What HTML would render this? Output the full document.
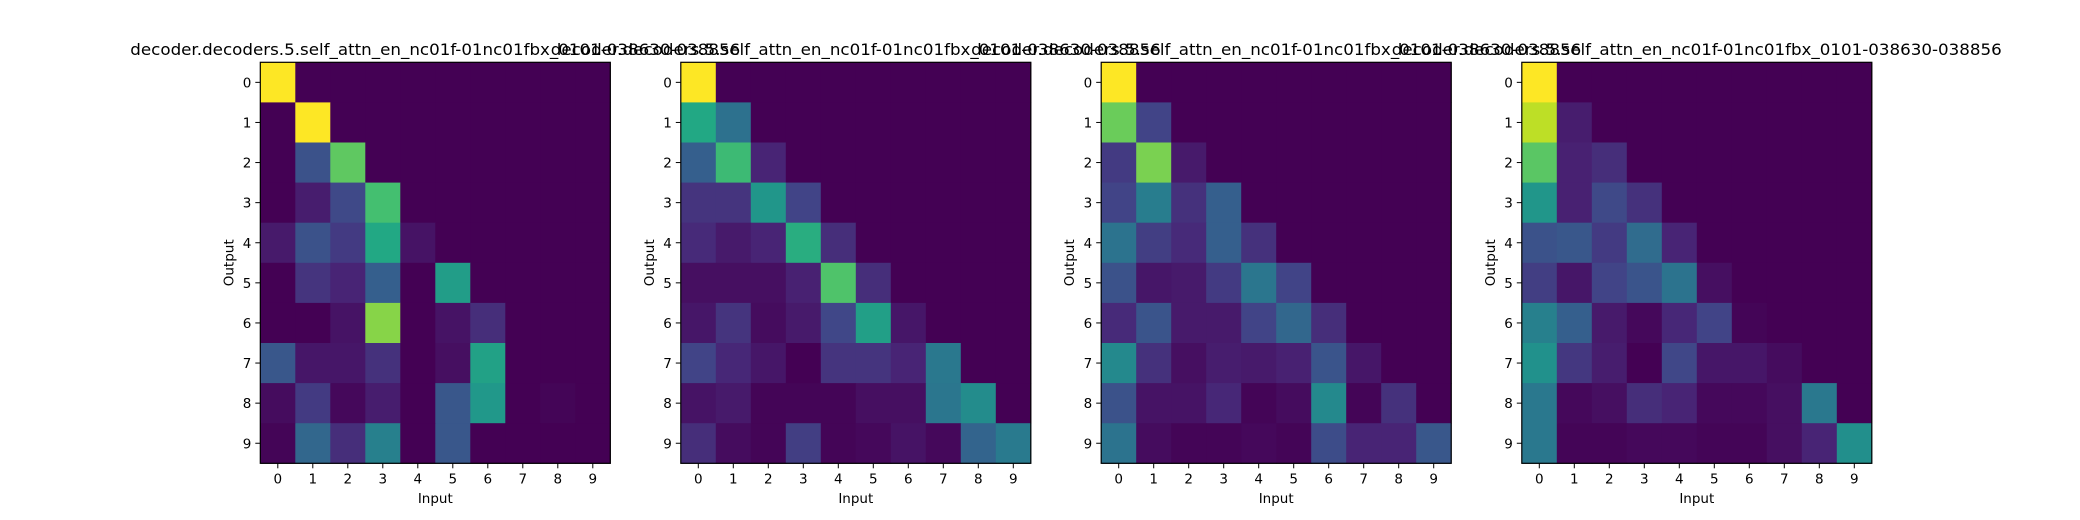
<!DOCTYPE html>
<html><head><meta charset="utf-8"><style>
html,body{margin:0;padding:0;background:#fff;}
svg{display:block;font-family:"DejaVu Sans","Liberation Sans",sans-serif;}
</style></head><body>
<svg id="fig" width="2080" height="520" viewBox="0 0 2080 520" xmlns="http://www.w3.org/2000/svg">
<rect width="2080" height="520" fill="#fff"/>
</svg>
<script>
const titleText = "decoder.decoders.5.self_attn_en_nc01f-01nc01fbx_0101-038630-038856";
const tickLabels = ["0","1","2","3","4","5","6","7","8","9"];
const heads0 = [
[1,0,0,0,0,0,0,0,0,0],
[0,1,0,0,0,0,0,0,0,0],
[0,0.25,0.75,0,0,0,0,0,0,0],
[0,0.08,0.22,0.7,0,0,0,0,0,0],
[0.07,0.25,0.17,0.6,0.05,0,0,0,0,0],
[0,0.15,0.1,0.3,0,0.55,0,0,0,0],
[0,0,0.05,0.82,0,0.05,0.13,0,0,0],
[0.27,0.06,0.06,0.14,0,0.04,0.57,0,0,0],
[0.03,0.17,0.02,0.08,0,0.27,0.53,0,0.01,0],
[0.01,0.33,0.13,0.43,0,0.27,0,0,0,0]];
const heads1 = [
[1,0,0,0,0,0,0,0,0,0],
[0.6,0.37,0,0,0,0,0,0,0,0],
[0.3,0.68,0.1,0,0,0,0,0,0,0],
[0.15,0.15,0.52,0.2,0,0,0,0,0,0],
[0.12,0.07,0.1,0.62,0.13,0,0,0,0,0],
[0.04,0.04,0.04,0.09,0.72,0.13,0,0,0,0],
[0.06,0.15,0.03,0.07,0.21,0.56,0.06,0,0,0],
[0.2,0.11,0.06,0,0.15,0.15,0.1,0.4,0,0],
[0.05,0.07,0.01,0.01,0.01,0.04,0.04,0.39,0.48,0],
[0.13,0.03,0.01,0.18,0.01,0.02,0.05,0.02,0.32,0.41]];
const heads2 = [
[1,0,0,0,0,0,0,0,0,0],
[0.77,0.2,0,0,0,0,0,0,0,0],
[0.17,0.8,0.07,0,0,0,0,0,0,0],
[0.2,0.42,0.14,0.3,0,0,0,0,0,0],
[0.38,0.18,0.12,0.3,0.14,0,0,0,0,0],
[0.25,0.06,0.07,0.17,0.39,0.2,0,0,0,0],
[0.12,0.26,0.07,0.07,0.2,0.33,0.13,0,0,0],
[0.47,0.14,0.04,0.08,0.07,0.09,0.26,0.06,0,0],
[0.25,0.05,0.05,0.11,0.01,0.03,0.47,0.01,0.14,0],
[0.38,0.03,0.01,0.01,0.02,0.01,0.23,0.1,0.1,0.27]];
const heads3 = [
[1,0,0,0,0,0,0,0,0,0],
[0.9,0.08,0,0,0,0,0,0,0,0],
[0.74,0.09,0.13,0,0,0,0,0,0,0],
[0.52,0.09,0.22,0.14,0,0,0,0,0,0],
[0.25,0.27,0.17,0.35,0.1,0,0,0,0,0],
[0.18,0.06,0.2,0.26,0.38,0.04,0,0,0,0],
[0.43,0.3,0.07,0.02,0.11,0.2,0.01,0,0,0],
[0.5,0.16,0.08,0,0.21,0.06,0.06,0.03,0,0],
[0.4,0.02,0.04,0.13,0.1,0.02,0.02,0.04,0.4,0],
[0.4,0.01,0.01,0.02,0.02,0.01,0.01,0.04,0.1,0.49]];
const allHeads = [heads0, heads1, heads2, heads3];

const VIR = ["#440154","#482475","#414487","#355f8d","#2a788e","#21918c","#22a884","#44bf70","#7ad151","#bddf26","#fde725"];
function hex(c){return [parseInt(c.slice(1,3),16),parseInt(c.slice(3,5),16),parseInt(c.slice(5,7),16)];}
function viridis(v){v=Math.max(0,Math.min(1,v));const p=v*10,i=Math.min(9,Math.floor(p)),f=p-i;const a=hex(VIR[i]),b=hex(VIR[i+1]);
return "rgb("+a.map((x,k)=>Math.round(x+(b[k]-x)*f)).join(",")+")";}

const NS="http://www.w3.org/2000/svg";
const svg=document.getElementById("fig");
function mk(tag,attrs,parent){const e=document.createElementNS(NS,tag);for(const k in attrs)e.setAttribute(k,attrs[k]);(parent||svg).appendChild(e);return e;}

const panelLeft=[260.3,680.8,1101.2,1521.8], plotTop=62.3, pw=350, ph=401;
allHeads.forEach((m,p)=>{
  const g=mk("g",{});
  
  
  const x0=panelLeft[p], n=m.length, cw=pw/n, ch=ph/n;
  const xs=j=>x0+j*cw, ys=i=>plotTop+i*ch;
  m.forEach((row,i)=>row.forEach((v,j)=>{
    const r=mk("rect",{x:xs(j),y:ys(i),width:cw+0.5,height:ch+0.5,fill:viridis(v)},g);
    
    
  }));
  const fr=mk("rect",{x:x0,y:plotTop,width:pw,height:ph,fill:"none",stroke:"#000","stroke-width":1.2},g);
  
  
  tickLabels.forEach((t,k)=>{
    const cx=xs(k)+cw/2, cy=ys(k)+ch/2;
    mk("line",{x1:cx,y1:plotTop+ph,x2:cx,y2:plotTop+ph+5,stroke:"#000","stroke-width":1},g);
    const xt=mk("text",{x:cx,y:plotTop+ph+20,"font-size":"13.5","text-anchor":"middle",fill:"#000"},g);
    xt.textContent=t;
    
    
    mk("line",{x1:x0,y1:cy,x2:x0-5,y2:cy,stroke:"#000","stroke-width":1},g);
    const yt=mk("text",{x:x0-9,y:cy+5,"font-size":"13.5","text-anchor":"end",fill:"#000"},g);
    yt.textContent=t;
    
    
  });
  const xl=mk("text",{x:x0+pw/2,y:503,"font-size":"13.5","text-anchor":"middle",fill:"#000"},g);
  xl.textContent="Input";
  
  
  const yx=x0-27, yy=plotTop+ph/2;
  const yl=mk("text",{x:yx,y:yy,"font-size":"13.5","text-anchor":"middle",fill:"#000",transform:"rotate(-90 "+yx+" "+yy+")"},g);
  yl.textContent="Output";
  
  
  const tt=mk("text",{x:x0+pw/2,y:55,"font-size":"16","text-anchor":"middle",fill:"#000",textLength:"610",lengthAdjust:"spacingAndGlyphs"},g);
  tt.textContent=titleText;
  
  
});
</script>
</body></html>
